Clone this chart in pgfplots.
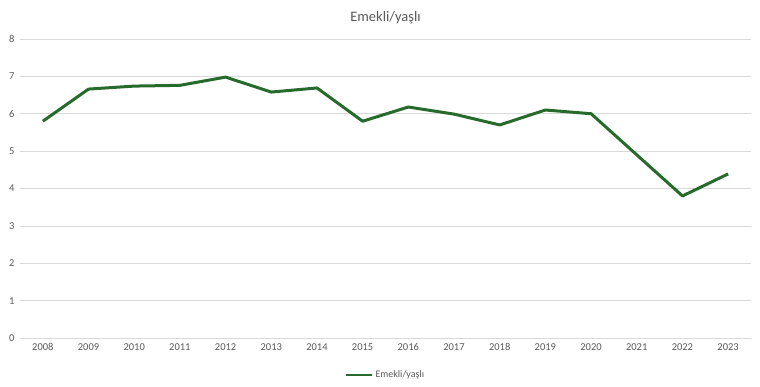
\documentclass[border=0pt]{standalone}
\usepackage{pgfplots}
\pgfplotsset{compat=1.18}
\usepackage{fontspec}
\setmainfont{Carlito}
\definecolor{linegreen}{RGB}{38,107,44}
\definecolor{txtgrey}{RGB}{89,89,89}
\definecolor{gridgrey}{RGB}{217,217,217}
\begin{document}
\begin{tikzpicture}
\begin{axis}[
  scale only axis,
  width=731pt, height=299pt,
  xmin=2007.5, xmax=2023.5,
  ymin=0, ymax=8,
  xtick={2008,...,2023},
  ytick={0,...,8},
  xticklabel style={/pgf/number format/1000 sep={}},
  /pgf/number format/assume math mode=true,
  ticklabel style={font=\fontsize{10.5}{12}\selectfont, text=txtgrey},
  yticklabel style={xshift=-2pt},
  xticklabel style={yshift=-2pt},
  ymajorgrids,
  grid style={gridgrey, line width=0.7pt},
  axis line style={draw=none},
  major tick style={draw=none},
  title={Emekli/yaşlı},
  title style={font=\fontsize{14.5}{16}\selectfont, text=txtgrey, yshift=6pt},
  legend style={at={(0.5,-0.124)}, anchor=center, draw=none, fill=none,
    font=\fontsize{10}{11}\selectfont, text=txtgrey,
    /tikz/every even column/.append style={column sep=0pt}},
  legend cell align=left,
  legend image code/.code={\draw[#1, line width=2.6pt] (0pt,0pt) -- (26pt,0pt);},
]
\addplot[linegreen, line width=3pt, line join=round] coordinates {
(2008,5.80) (2009,6.66) (2010,6.74) (2011,6.76) (2012,6.98) (2013,6.58)
(2014,6.69) (2015,5.80) (2016,6.18) (2017,5.99) (2018,5.70) (2019,6.10)
(2020,6.00) (2021,4.90) (2022,3.80) (2023,4.39)
};
\addlegendentry{Emekli/yaşlı}
\end{axis}
\path (current axis.south west) ++(-20pt,-49pt) coordinate (bl);
\path (current axis.north east) ++(9pt,39pt) coordinate (tr);
\useasboundingbox (bl) rectangle (tr);
\end{tikzpicture}
\end{document}
